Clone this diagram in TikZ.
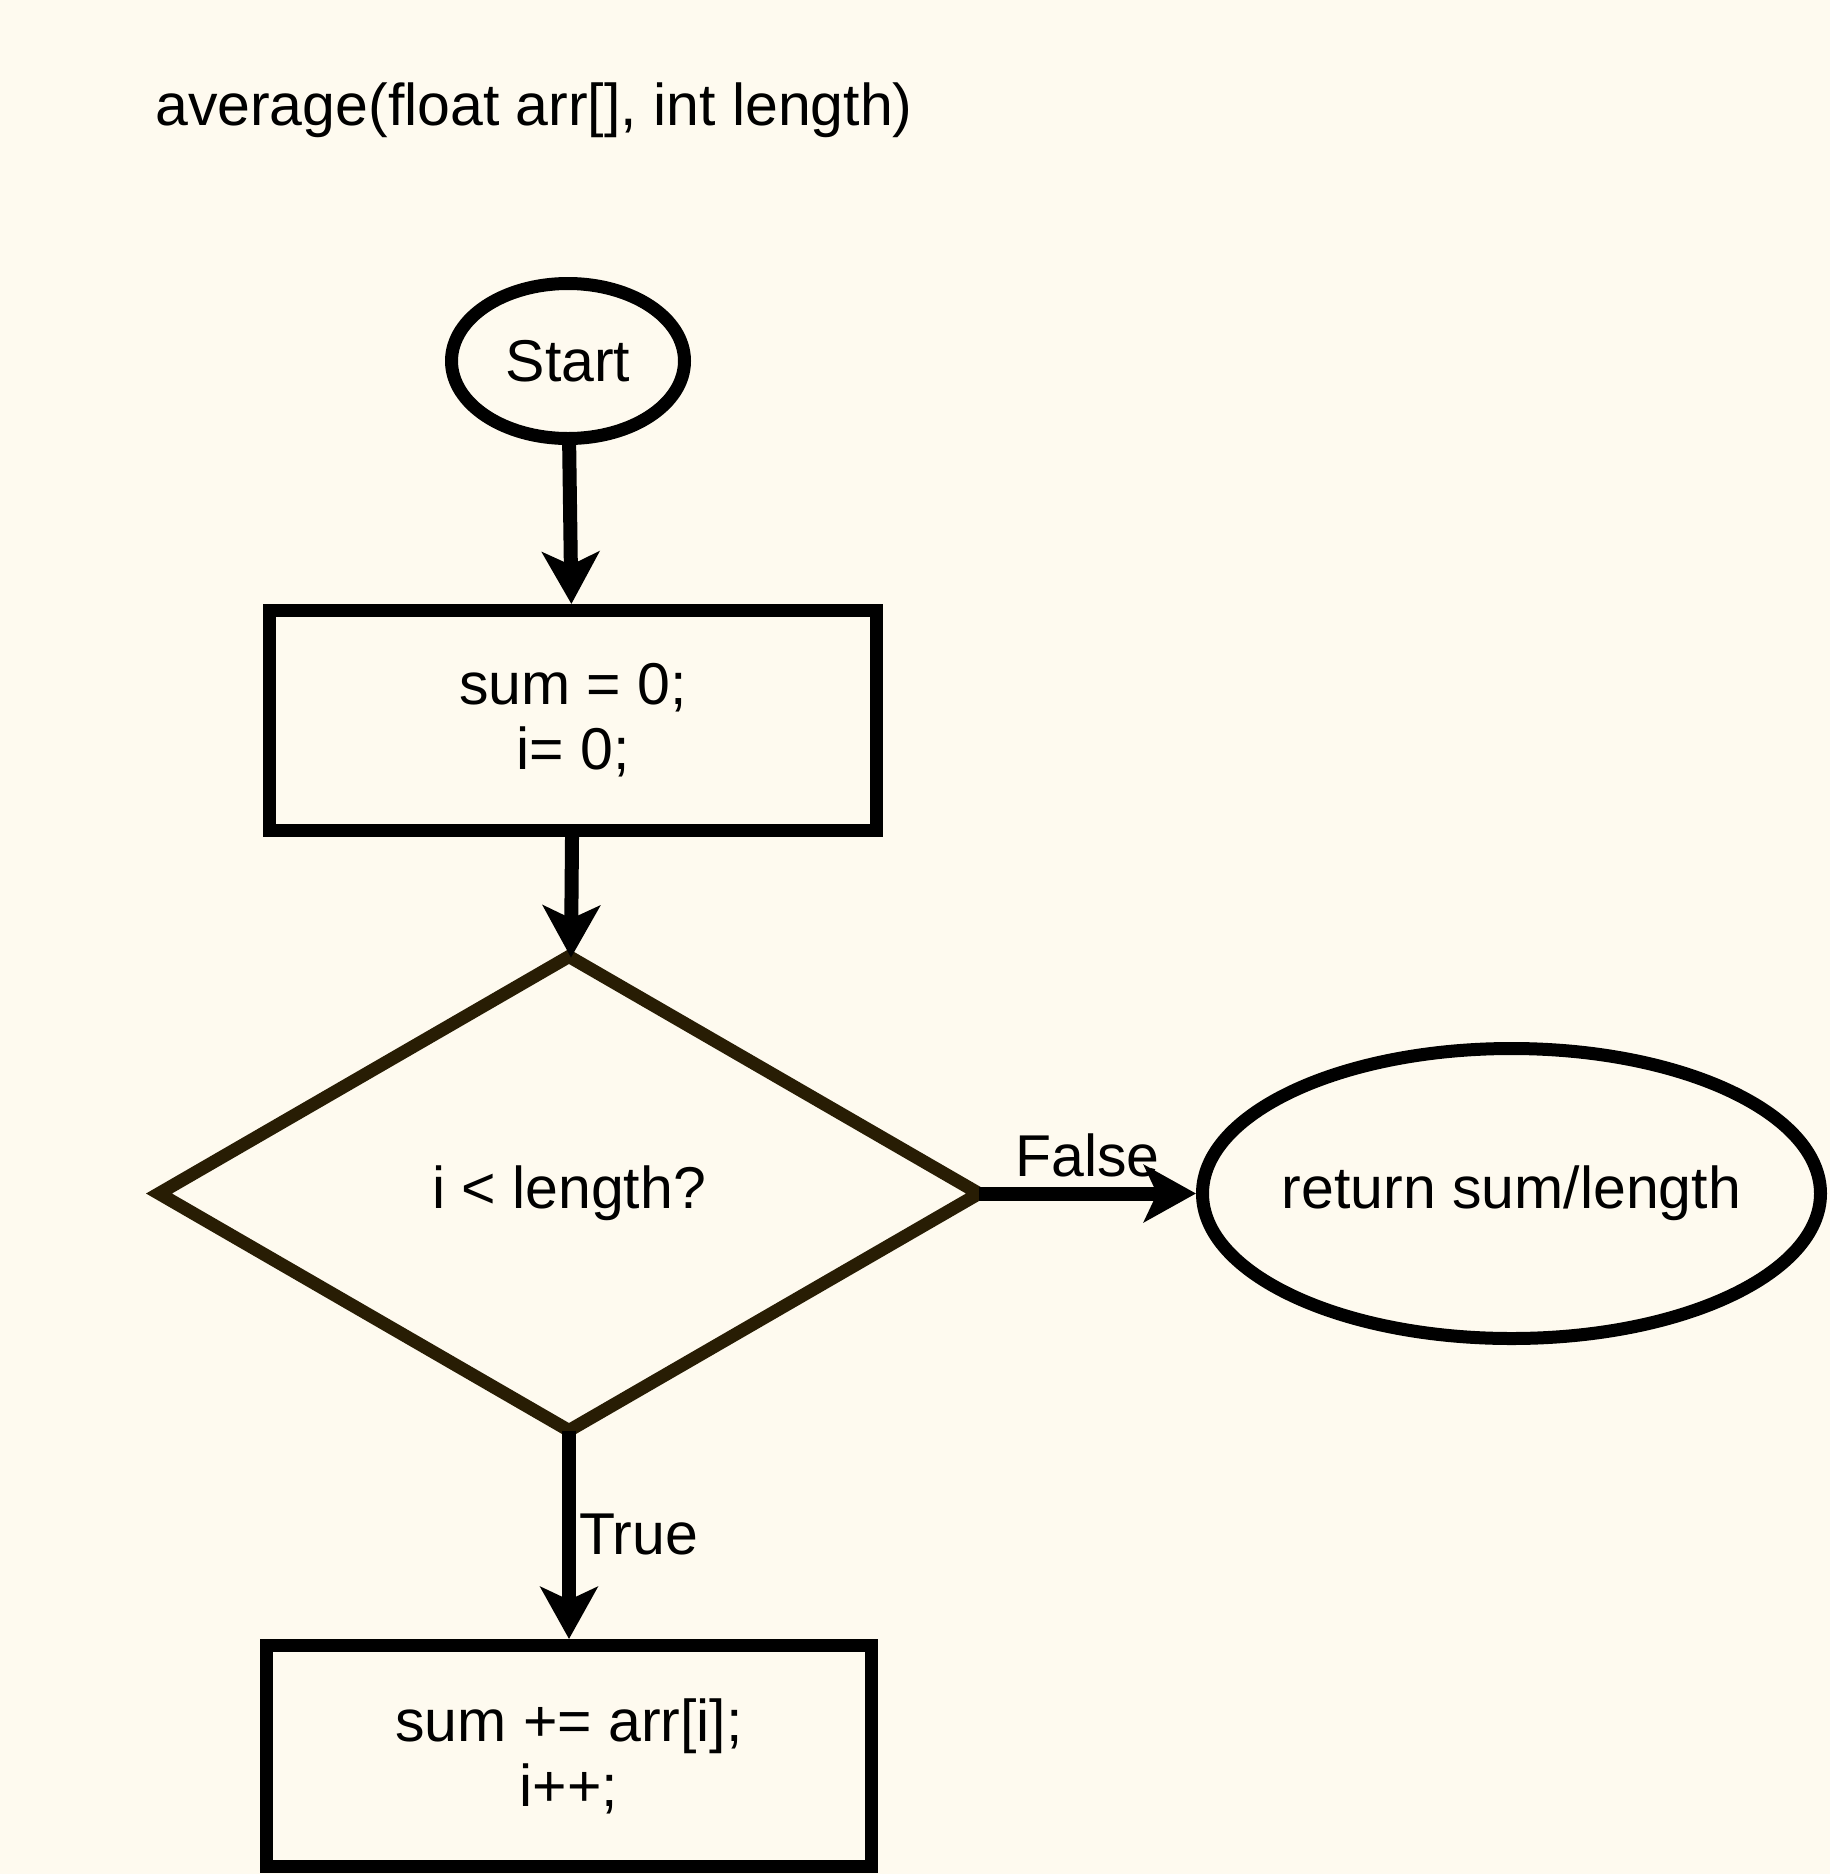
\documentclass[tikz,border=0pt]{standalone}
\usepackage{fontspec}
\setmainfont{Liberation Sans}
\usetikzlibrary{arrows.meta,shapes,calc}

\definecolor{paper}{RGB}{254,250,239}
\definecolor{rim}{RGB}{40,29,4}

\begin{document}
\begin{tikzpicture}[x=1pt,y=-1pt,font=\fontsize{59}{65}\selectfont]
\tikzset{
	term node/.style = {ellipse, draw, line width = 13, inner sep = 0},
	proc node/.style = {rectangle, draw, line width = 13, align = center},
	cond node/.style = {diamond, draw = rim, line width = 13, inner sep = 0, outer sep = 0},
	flow line/.style = {line width = 14, -{Stealth[length=52, width=57, inset=13]}},
	edge label/.style = {inner sep = 0},
}
\useasboundingbox[fill = paper] (0,0) rectangle (1830,1874);

\node(title)[anchor = base west, inner sep = 0] at (155,125) {average(float arr[], int length)};
\node(start)[term node, minimum width = 233, minimum height = 155] at (568,361) {Start};
\node(init)[proc node, minimum width = 607, minimum height = 220] at (573,720.5) {sum = 0;\\i= 0;};
\node(test)[cond node, minimum width = 820, minimum height = 474] at (569,1193.5) {i < length?};
\node(ret)[term node, minimum width = 618, minimum height = 290] at (1511.5,1193.5) {\makebox[0pt]{return sum/length}};
\node(body)[proc node, minimum width = 605, minimum height = 221] at (569,1756) {sum += arr[i];\\i++;};

\draw[flow line] (start) -- (init);
\draw[flow line] (init) -- (test);
\draw[flow line] (test) -- node[edge label, above = 9pt]{False} (ret);
\draw[flow line] (test) -- node[edge label, right = 3pt]{True} (body);

\end{tikzpicture}
\end{document}
